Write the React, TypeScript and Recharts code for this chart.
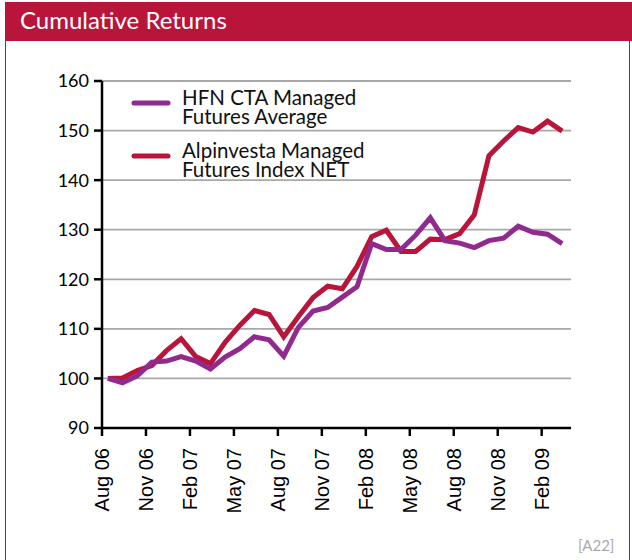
import { LineChart, Line, XAxis, YAxis, CartesianGrid, Legend } from "recharts";

// Brand colours
const RED = "#b9153b";
const PURPLE = "#902a8e";
const GRID = "#a8a8a8";

// Monthly observations, Aug 06 .. Mar 09
const MONTHS = [
  "Aug 06", "Sep 06", "Oct 06", "Nov 06", "Dec 06", "Jan 07", "Feb 07", "Mar 07",
  "Apr 07", "May 07", "Jun 07", "Jul 07", "Aug 07", "Sep 07", "Oct 07", "Nov 07",
  "Dec 07", "Jan 08", "Feb 08", "Mar 08", "Apr 08", "May 08", "Jun 08", "Jul 08",
  "Aug 08", "Sep 08", "Oct 08", "Nov 08", "Dec 08", "Jan 09", "Feb 09", "Mar 09",
];

const HFN_CTA = [
  100, 99.1, 100.5, 103.3, 103.5, 104.4, 103.5, 101.9,
  104.3, 106.0, 108.4, 107.8, 104.5, 110.3, 113.6, 114.3,
  116.4, 118.5, 127.2, 126.0, 126.0, 128.9, 132.4, 127.8,
  127.3, 126.4, 127.8, 128.3, 130.7, 129.5, 129.1, 127.2,
];

const ALPINVESTA = [
  100, 100.1, 101.6, 102.6, 105.6, 108.0, 104.4, 103.0,
  107.3, 110.7, 113.7, 112.9, 108.4, 112.5, 116.3, 118.6,
  118.1, 122.6, 128.6, 129.9, 125.6, 125.6, 128.1, 128.0,
  129.2, 133.0, 144.9, 147.9, 150.6, 149.7, 151.9, 149.9,
];

const Y_TICKS = [90, 100, 110, 120, 130, 140, 150, 160];
const X_TICKS = [0, 3, 6, 9, 12, 15, 18, 21, 24, 27, 30];
// values are plotted a little after the month tick (mid-month readings)
const POINT_OFFSET = 0.4;

const data = MONTHS.map((m, i) => ({
  t: i + POINT_OFFSET,
  month: m,
  hfn: HFN_CTA[i],
  alpin: ALPINVESTA[i],
}));

const LEGEND_ORDER = ["hfn", "alpin"];
const LEGEND_NAMES: Record<string, string[]> = {
  hfn: ["HFN CTA Managed", "Futures Average"],
  alpin: ["Alpinvesta Managed", "Futures Index NET"],
};

function XTick(props: any) {
  const { x, y, payload } = props;
  return (
    <text
      x={x}
      y={y}
      transform={`rotate(-90, ${x}, ${y})`}
      textAnchor="end"
      dy="0.36em"
      fill="#000"
      fontSize={20}
      fontFamily="'Liberation Sans', Arial, sans-serif"
    >
      {MONTHS[payload.value]}
    </text>
  );
}

function LegendBox(props: any) {
  const items = [...(props.payload || [])].sort(
    (a: any, b: any) => LEGEND_ORDER.indexOf(a.dataKey) - LEGEND_ORDER.indexOf(b.dataKey)
  );
  return (
    <div style={{ fontFamily: "Lato, sans-serif", fontSize: 20.5, color: "#111" }}>
      {items.map((it: any) => (
        <div key={it.dataKey} style={{ display: "flex", alignItems: "flex-start", marginBottom: 14 }}>
          <svg width={52} height={22} style={{ flex: "none", marginTop: 3 }}>
            <line x1={4} y1={14} x2={38} y2={14} stroke={it.color} strokeWidth={5} strokeLinecap="round" />
          </svg>
          <div style={{ lineHeight: "18.5px", paddingTop: 2 }}>
            {LEGEND_NAMES[it.dataKey].map((l) => (
              <div key={l}>{l}</div>
            ))}
          </div>
        </div>
      ))}
    </div>
  );
}

export default function App() {
  return (
    <div style={{ position: "absolute", left: 0, top: 0, width: 632, height: 560, background: "#fff", overflow: "hidden" }}>
      <div
        style={{
          position: "absolute",
          left: 5,
          right: 0,
          top: 2,
          height: 39,
          background: RED,
          color: "#fff",
          fontFamily: "Lato, sans-serif",
          fontSize: 24,
          lineHeight: "36px",
          paddingLeft: 15,
        }}
      >
        Cumulative Returns
      </div>
      <div style={{ position: "absolute", left: 5, top: 2, bottom: 0, borderLeft: `1.5px solid ${RED}` }} />
      <div style={{ position: "absolute", left: 629, top: 2, bottom: 0, borderLeft: `1.5px solid ${RED}` }} />

      <div style={{ position: "absolute", left: 0, top: 0 }}>
        <LineChart width={632} height={560} data={data} margin={{ top: 81, right: 61, bottom: 0, left: 0 }}>
          <CartesianGrid horizontal vertical={false} stroke={GRID} strokeWidth={1.8} />
          <XAxis
            dataKey="t"
            type="number"
            domain={[0, 32]}
            ticks={X_TICKS}
            interval={0}
            height={132}
            axisLine={{ stroke: "#000", strokeWidth: 2.5 }}
            tickLine={{ stroke: "#000", strokeWidth: 2.5 }}
            tickSize={8}
            tickMargin={12}
            tick={XTick}
          />
          <YAxis
            type="number"
            domain={[90, 160]}
            ticks={Y_TICKS}
            interval={0}
            width={102}
            axisLine={{ stroke: "#000", strokeWidth: 2.5 }}
            tickLine={{ stroke: "#000", strokeWidth: 2.5 }}
            tickSize={8}
            tickMargin={5}
            tick={{ fill: "#000", fontSize: 18, fontFamily: "Lato, sans-serif" }}
          />
          <Legend
            layout="horizontal"
            verticalAlign="middle"
            align="center"
            content={LegendBox}
            wrapperStyle={{ position: "absolute", left: 130, top: 86, width: 280 }}
          />
          <Line
            dataKey="alpin"
            name="Alpinvesta Managed Futures Index NET"
            stroke={RED}
            strokeWidth={5}
            dot={false}
            isAnimationActive={false}
          />
          <Line
            dataKey="hfn"
            name="HFN CTA Managed Futures Average"
            stroke={PURPLE}
            strokeWidth={5}
            dot={false}
            isAnimationActive={false}
          />
        </LineChart>
      </div>

      <div
        style={{
          position: "absolute",
          left: 578,
          top: 536,
          fontFamily: "Lato, sans-serif",
          fontSize: 15,
          color: "#aaa",
        }}
      >
        [A22]
      </div>
    </div>
  );
}
